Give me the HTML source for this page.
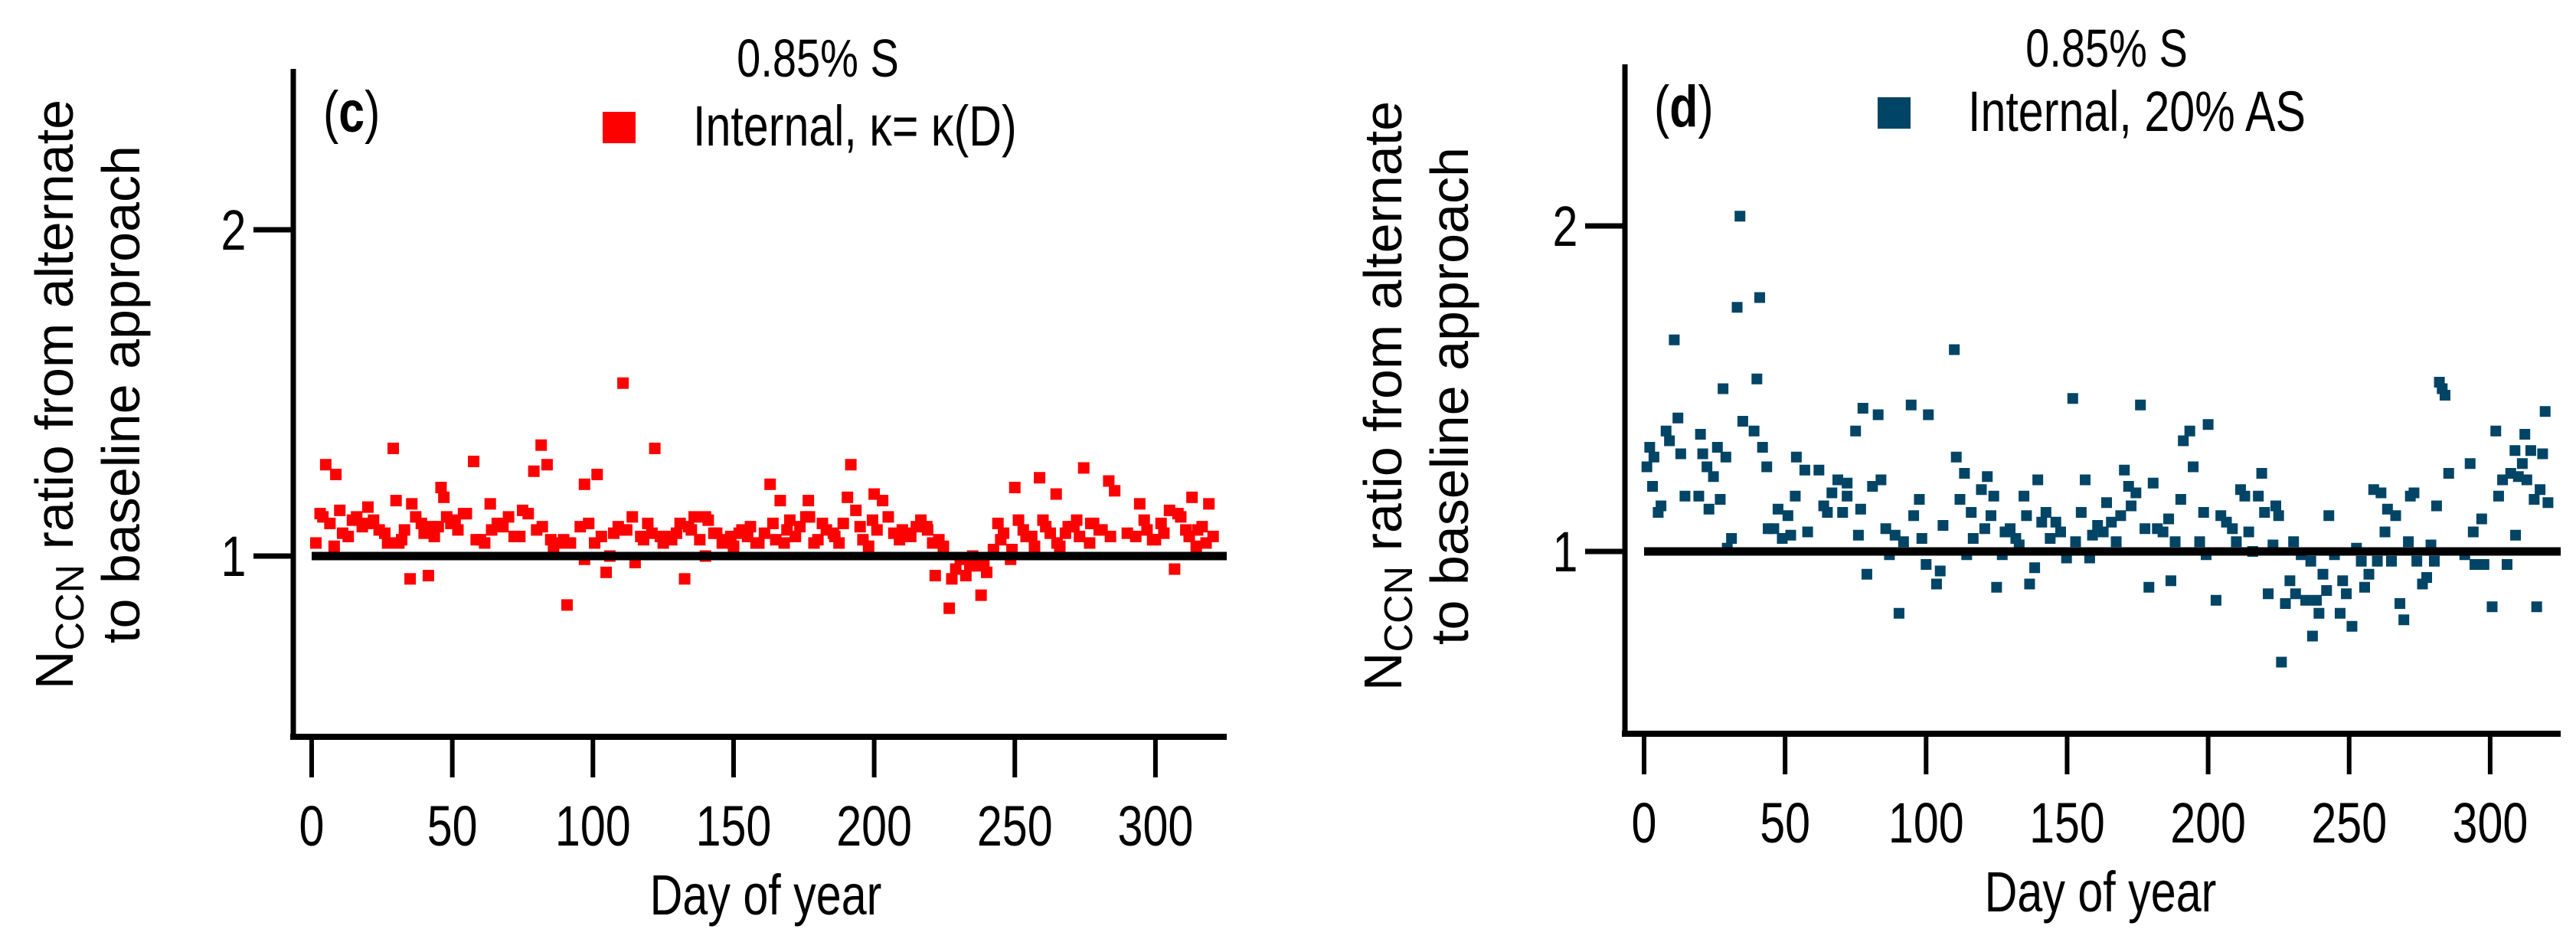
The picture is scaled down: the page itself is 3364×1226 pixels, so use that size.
<!DOCTYPE html>
<html><head><meta charset="utf-8"><style>
html,body{margin:0;padding:0;background:#fff;}
svg{display:block;}
.n{font-family:"Liberation Sans Narrow","Liberation Sans",sans-serif;}
.r{font-family:"Liberation Sans",sans-serif;}
</style></head><body>
<svg id="fig" width="3364" height="1226" viewBox="0 0 3364 1226" xmlns="http://www.w3.org/2000/svg"></svg>
<script>
const xTicks = [0,50,100,150,200,250,300];
const yTicks = [1,2];
const dayC = [1.5,5,8.6,3,6.5,8,10,13,14.5,20,20,24,29,30,27,32,35,35.6,33,39,41.5,43,46,47,43.6,49.5,51,54,57.6,58.5,61.5,63.5,66,68,72,75,77,79,81.6,83.7,82,85,88,90.8,89.6,95.5,97,98.5,97,101.5,100.6,104.7,106,107.4,110.7,112,114,115,117,119.5,122,124,127,129.7,132.6,134,136,140,140,143,146,149,152,156,159,163,164,166.6,168,170,173.6,176.6,175.7,178.6,181.6,185.5,187.5,190.5,191.7,193.5,195,198,199.4,200,203,205,207,210,213,216.6,218.7,220.8,221.7,224.6,226.7,227.6,230.6,232.6,235,237,238,240,242.4,244,246,248.5,250,251.3,254,257,258.8,260,262.6,264.7,266,269,272,274.5,276.6,278,281,283.4,285.5,293,294.4,296,299,302,305,306.8,308,310.8,313,314.5,316.6,319,320.5,
  4,11,16,18,22,26,31,37,40,45,48,52,55,60,64,70,74,80,86,92,103,109,111,118,121,125,128,131,135,138,141,144,147,150,153,155,158,161,165,169,172,177,180,183,186,189,196,201,209,212,215,219,223,229,234,239,245,249,253,256,261,265,268,271,273,277,280,284,290,297,300,303,309,312,315,318];
const valC = [1.04,1.28,1.25,1.13,1.10,1.03,1.14,1.06,1.11,1.15,1.10,1.08,1.33,1.17,1.04,1.05,0.93,1.16,1.08,1.10,0.94,1.09,1.21,1.18,1.06,1.10,1.11,1.13,1.29,1.05,1.04,1.16,1.10,1.09,1.06,1.14,1.13,1.26,1.34,1.28,1.09,1.05,1.04,0.85,1.05,1.09,1.22,1.10,0.99,1.25,1.04,0.95,1.00,1.07,1.53,1.08,1.12,0.98,1.06,1.10,1.33,1.06,1.06,1.07,0.93,1.09,1.12,1.12,1.00,1.07,1.04,1.06,1.07,1.09,1.04,1.22,1.10,1.17,1.04,1.11,1.09,1.17,1.12,1.04,1.10,1.07,1.04,1.18,1.28,1.14,1.09,1.03,1.11,1.19,1.17,1.12,1.07,1.08,1.06,1.11,1.09,1.04,0.94,1.03,0.84,0.93,0.99,0.94,1.00,0.97,0.88,0.95,1.02,1.10,1.07,0.99,1.21,1.11,1.06,1.03,1.24,1.11,1.07,1.19,1.03,1.09,1.11,1.27,1.04,1.10,1.08,1.23,1.20,1.06,1.16,1.11,1.05,1.10,1.14,0.96,1.13,1.08,1.18,1.03,1.09,1.16,1.06,
  1.12,1.07,1.12,1.09,1.11,1.07,1.04,1.12,1.07,1.09,1.12,1.08,1.13,1.05,1.08,1.12,1.06,1.08,1.03,1.04,1.06,1.09,1.08,1.05,1.07,1.04,1.05,1.10,1.08,1.05,1.11,1.07,1.05,1.03,1.08,1.06,1.04,1.07,1.05,1.08,1.06,1.12,1.05,1.08,1.06,1.10,1.05,1.08,1.05,1.07,1.09,1.08,1.05,0.96,0.97,0.98,1.05,1.02,1.08,1.06,1.09,1.04,1.07,1.09,1.06,1.10,1.08,1.06,1.07,1.08,1.05,1.07,1.12,1.06,1.08,1.04];
const dayD = [1,2,3.5,3,5,6,7.8,9,10.7,12,13,14.5,19.4,20,20.8,22.3,23,24.6,26,27,28,29,29.5,31,33,34,35,39,40,41,42,43.5,44,46,47.5,49,51,52,53.6,54,57,58,62,63.7,65,66.6,68.7,70.4,72,72,75,76,76.8,77.6,79,81,83,84,85.7,87,89,90.4,92,94.7,95.6,97.6,98.5,100,100.8,103.7,105,106,110,110.7,112,113.6,114.4,116,116.7,119.6,120.8,121.7,123,124,125,127,128,129.8,131.8,133,134.7,135.6,136.7,138.5,139.6,141,142.5,144,146,147.7,149.8,152,153,155,156.4,158,159,160.8,162.8,164,165.7,167.4,169,170.3,171.8,172.7,174.4,176,177.6,179,180.5,182,184,186,186.8,188.3,190.3,191.2,193.5,194.7,197,198.4,199.3,200,202.8,204.5,206.5,208.6,210,211.5,213,214.4,215.8,217.8,219,220,221.3,223,224,225,226,227.4,229,230.3,231,233,234.6,236.4,237,238.4,239.3,240.7,242,242.8,244.8,246.8,247.7,249,251,252.6,254.3,255.5,257,258.7,260,261.3,262.7,263.6,265,266.5,268,269.4,271,271.7,273,274,276,277.5,279,280.2,281,282,283,284,285.3,291,292.9,294,294.6,297,297.8,300.7,302,303,304.4,306,307.3,308.8,309,310,311.4,312.3,313,314.4,315.6,316.5,317.7,318.6,319.5,320.5];
const valD = [1.26,1.32,1.29,1.20,1.12,1.14,1.37,1.34,1.65,1.41,1.30,1.17,1.17,1.36,1.30,1.26,1.13,1.23,1.32,1.16,1.50,1.29,1.01,1.04,1.75,2.03,1.40,1.37,1.53,1.78,1.32,1.26,1.07,1.07,1.13,1.04,1.11,1.05,1.17,1.29,1.25,1.06,1.25,1.14,1.12,1.18,1.22,1.12,1.17,1.21,1.37,1.05,1.13,1.44,0.93,1.20,1.42,1.22,1.07,0.99,1.05,0.81,1.03,1.45,1.11,1.16,1.04,0.96,1.42,0.90,0.94,1.08,1.62,1.29,1.16,1.24,0.99,1.12,1.04,1.19,1.07,1.23,1.11,1.17,0.89,0.99,1.06,1.07,1.04,1.02,1.17,1.11,0.90,0.95,1.22,1.09,1.12,1.04,1.09,1.06,0.98,1.47,1.03,1.12,1.22,0.98,1.05,1.08,1.06,1.15,1.09,1.03,1.11,1.25,1.20,1.14,1.18,1.45,1.07,0.89,1.21,1.07,1.06,1.10,0.91,1.03,1.16,1.34,1.37,1.26,1.03,1.12,0.99,1.39,0.85,1.11,1.09,1.07,1.03,1.19,1.17,1.06,1.00,1.17,1.24,1.12,0.87,1.02,1.14,1.11,0.66,0.84,0.91,1.03,0.87,0.99,0.85,0.97,0.74,0.85,0.81,0.93,0.88,1.11,0.99,0.81,0.91,0.87,0.77,1.01,0.97,0.89,0.93,1.19,0.97,1.18,1.06,1.13,0.97,1.11,0.84,0.79,1.03,1.17,1.18,0.97,0.90,0.92,1.02,0.97,1.14,1.52,1.50,1.48,1.24,0.99,1.27,1.06,0.96,1.10,0.96,0.83,1.37,1.17,1.22,0.96,1.24,1.31,1.05,1.23,1.27,1.36,1.22,1.31,1.16,0.83,1.19,1.30,1.43,1.15];

const NS = "http://www.w3.org/2000/svg";
const svg = document.getElementById('fig');
const SX = 0.8;
function mk(tag, attrs, parent, text) {
  const e = document.createElementNS(NS, tag);
  for (const k in attrs) e.setAttribute(k, attrs[k]);
  if (text !== undefined) e.textContent = text;
  (parent || svg).appendChild(e);
  return e;
}
function ntext(parent, x, y, size, anchor, str) {
  const t = mk('text', {transform:`translate(${x},${y}) scale(${SX},1)`, x:0, y:0, 'font-size':size, 'text-anchor':anchor, class:'n'}, parent, str);
  return t;
}

function panel(P) {
  const g = mk('g', {});
  
  
  const xs = d => P.x0 + d * P.dx;
  const ys = v => P.y1 - (v - 1) * P.dy;
  const ya = mk('line', {x1:P.ax, y1:P.top, x2:P.ax, y2:P.bot+4, stroke:'#000','stroke-width':7}, g);
  
  
  const xa = mk('line', {x1:P.ax-4, y1:P.bot, x2:P.xend, y2:P.bot, stroke:'#000','stroke-width':8}, g);
  
  
  yTicks.forEach(t => {
    const tl = mk('line', {x1:P.ax-52, y1:ys(t), x2:P.ax, y2:ys(t), stroke:'#000','stroke-width':7}, g);
    
    
    const tx = ntext(g, P.ax-78, ys(t)+26, 74, 'middle', String(t));
    
    
  });
  xTicks.forEach(t => {
    const tl = mk('line', {x1:xs(t), y1:P.bot, x2:xs(t), y2:P.bot+53, stroke:'#000','stroke-width':6}, g);
    
    
    const tx = ntext(g, xs(t), P.bot+142, 74, 'middle', String(t));
    
    
  });
  const xt = ntext(g, P.xlabX, P.bot+232, 74, 'middle', 'Day of year');
  
  
  const yt = mk('text', {transform:`translate(${P.ylx},${P.yly}) rotate(-90)`, 'font-size':70, 'text-anchor':'middle', class:'r'}, g);
  
  
  mk('tspan', {x:0, y:0}, yt, 'N');
  mk('tspan', {dy:14, 'font-size':52}, yt, 'CCN');
  mk('tspan', {dy:-14}, yt, ' ratio from alternate');
  mk('tspan', {x:0, y:87}, yt, 'to baseline approach');
  const pts = mk('g', {}, g);
  
  
  P.days.forEach((d, i) => {
    const r = mk('rect', {x:xs(d)-P.ms/2, y:ys(P.vals[i])-P.ms/2, width:P.ms, height:P.ms, fill:P.color}, pts);
    
    
  });
  const rl = mk('line', {x1:xs(0), y1:ys(1), x2:P.xend, y2:ys(1), stroke:'#000','stroke-width':11}, g);
  
  
  const tt = ntext(g, P.titleX, P.titleY, 70, 'middle', '0.85% S');
  
  
  const pl = mk('text', {transform:`translate(${P.plX},${P.plY}) scale(${SX},1)`, x:0, y:0, 'font-size':76, class:'n'}, g);
  
  
  mk('tspan', {}, pl, '(');
  mk('tspan', {'font-weight':'bold'}, pl, P.letter);
  mk('tspan', {}, pl, ')');
  const lm = mk('rect', {x:P.lgX, y:P.lgY, width:43, height:41, fill:P.color}, g);
  
  
  const lt = ntext(g, P.lgTX, P.lgY+44, 74, 'start', P.legend);
  
  
}

panel({name:'panel-c', letter:'c', color:'#ff0000', days:dayC, vals:valC, ms:15,
  x0:407, dx:3.673, y1:726, dy:426, ax:383, top:90, bot:962, xend:1602,
  xlabX:1000, ylx:95, yly:515, titleX:1068, titleY:100, plX:422, plY:172,
  lgX:787, lgY:146, lgTX:905, legend:'Internal,  \u03ba= \u03ba(D)'});
panel({name:'panel-d', letter:'d', color:'#004466', days:dayD, vals:valD, ms:14,
  x0:2147, dx:3.683, y1:720, dy:425, ax:2122, top:84, bot:958, xend:3344,
  xlabX:2743, ylx:1830, yly:517, titleX:2751, titleY:87, plX:2160, plY:165,
  lgX:2452, lgY:127, lgTX:2570, legend:'Internal, 20% AS'});
</script>
</body></html>
